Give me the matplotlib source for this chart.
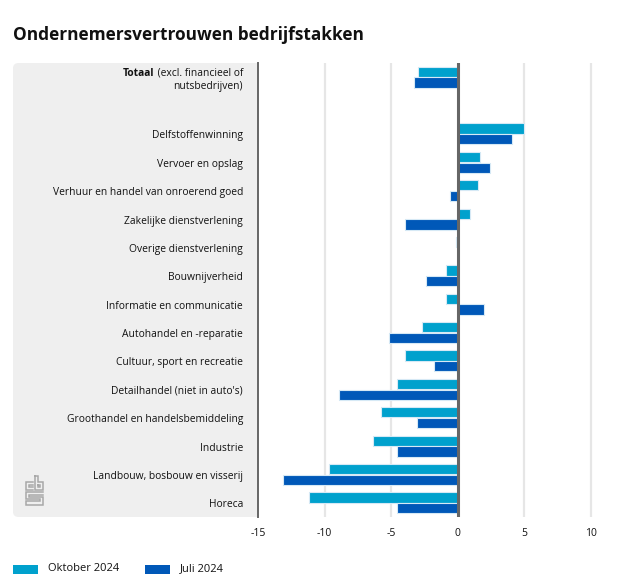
import matplotlib
matplotlib.use("Agg")
import matplotlib.pyplot as plt
from matplotlib.patches import FancyBboxPatch, Rectangle
from matplotlib.lines import Line2D
import numpy as np

plt.rcParams['font.family'] = ['Open Sans', 'DejaVu Sans']

title = "Ondernemersvertrouwen bedrijfstakken"
categories = [
    "Totaal",
    "",
    "Delfstoffenwinning",
    "Vervoer en opslag",
    "Verhuur en handel van onroerend goed",
    "Zakelijke dienstverlening",
    "Overige dienstverlening",
    "Bouwnijverheid",
    "Informatie en communicatie",
    "Autohandel en -reparatie",
    "Cultuur, sport en recreatie",
    "Detailhandel (niet in auto's)",
    "Groothandel en handelsbemiddeling",
    "Industrie",
    "Landbouw, bosbouw en visserij",
    "Horeca",
]
oktober_2024 = [-3.0, np.nan, 5.0, 1.7, 1.5, 0.9, -0.1, -0.9, -0.9, -2.7, -4.0, -4.6, -5.8, -6.4, -9.7, -11.2]
juli_2024 = [-3.3, np.nan, 4.1, 2.4, -0.6, -4.0, 0.0, -2.4, 2.0, -5.2, -1.8, -8.9, -3.1, -4.6, -13.1, -4.6]
series_names = ["Oktober 2024", "Juli 2024"]
xticks = [-15, -10, -5, 0, 5, 10]

c_okt = "#00A1CD"
c_jul = "#0058B8"
edge = "#d6e9f5"
txt = "#111111"

W, H = 644, 574
fig = plt.figure(figsize=(W / 100, H / 100), dpi=100)

left, right, top, bottom = 258, 611, 63, 517
ax = fig.add_axes([left / W, 1 - bottom / H, (right - left) / W, (bottom - top) / H])
ax.set_zorder(2)

# grey panel behind labels
panel = FancyBboxPatch((13 / W, 1 - bottom / H), (left + 10 - 13) / W, (bottom - top) / H,
                       boxstyle="round,pad=0,rounding_size=0.009",
                       transform=fig.transFigure, facecolor="#efefef", edgecolor="none", zorder=0)
fig.patches.append(panel)

y = np.arange(len(categories))
h = 0.36
off = 0.19
ax.barh(y - off, oktober_2024, height=h, color=c_okt, edgecolor=edge, linewidth=0.8, zorder=3)
ax.barh(y + off, juli_2024, height=h, color=c_jul, edgecolor=edge, linewidth=0.8, zorder=3)

ax.set_xlim(-15, 11.5)
ax.set_ylim(len(categories) - 0.5, -0.5)

for x in xticks:
    if x in (-15, 0):
        continue
    ax.axvline(x, color="#e6e6e6", lw=1.6, zorder=1)
ax.axvline(0, color="#666666", lw=2.2, zorder=4)

for s in ["top", "right", "bottom"]:
    ax.spines[s].set_visible(False)
ax.spines["left"].set_color("#666666")
ax.spines["left"].set_linewidth(1.4)

ax.set_xticks(xticks)
ax.set_xticklabels([str(t) for t in xticks], fontsize=7.5, color=txt)
ax.tick_params(axis="x", length=0, pad=8)
ax.set_yticks([])

# category labels
lx = 243 / W
dy = 2.0 / H
for i, cat in enumerate(categories):
    if i < 2:
        continue
    yy = ax.transData.transform((0, i))[1] / H - dy
    fig.text(lx, yy, cat, ha="right", va="center", fontsize=7.4, color=txt)

# Totaal label (mixed bold/normal, two lines)
fig.canvas.draw()
renderer = fig.canvas.get_renderer()
y0 = 1 - 73 / H
t1 = fig.text(lx, y0, " (excl. financieel of", ha="right", va="center", fontsize=7.4, color=txt)
bb = t1.get_window_extent(renderer)
fig.text(bb.x0 / W, y0, categories[0], ha="right", va="center", fontsize=7.4,
         fontweight="bold", color=txt)
fig.text(lx, 1 - 86 / H, "nutsbedrijven)", ha="right", va="center", fontsize=7.4, color=txt)

# title
fig.text(13 / W, 1 - 35 / H, title, ha="left", va="center", fontsize=12.4, fontweight="bold", color=txt)

# small decorative logo (grey outline)
def pline(pts):
    xs = [p[0] / W for p in pts]
    ys = [1 - p[1] / H for p in pts]
    fig.lines.append(Line2D(xs, ys, transform=fig.transFigure, color="#a8a8a8", lw=1.1,
                            solid_joinstyle="miter", zorder=1))

pline([(33, 482), (25.5, 482), (25.5, 490), (33, 490)])          # c
pline([(33, 485), (28.5, 485), (28.5, 487), (33, 487)])
pline([(34.5, 476), (34.5, 490), (42.5, 490), (42.5, 482), (37.5, 482), (37.5, 476), (34.5, 476)])  # b
pline([(37.5, 485), (39.5, 485), (39.5, 487), (37.5, 487), (37.5, 485)])
pline([(42.5, 492), (25.5, 492), (25.5, 499), (39.5, 499), (39.5, 501), (25.5, 501), (25.5, 505), (42.5, 505),
       (42.5, 496.5), (28.5, 496.5), (28.5, 494.5), (42.5, 494.5)])  # s

# legend (manual)
leg_y = 565
for x0, col, name in [(13, c_okt, series_names[0]), (145, c_jul, series_names[1])]:
    fig.patches.append(Rectangle((x0 / W, 1 - (leg_y + 11) / H), 25 / W, 11 / H,
                                 transform=fig.transFigure, facecolor=col, edgecolor="none"))
    fig.text((x0 + 35) / W, 1 - (leg_y + 3.5) / H, name, ha="left", va="center",
             fontsize=8, color=txt)

fig.savefig("out.png", dpi=100)
